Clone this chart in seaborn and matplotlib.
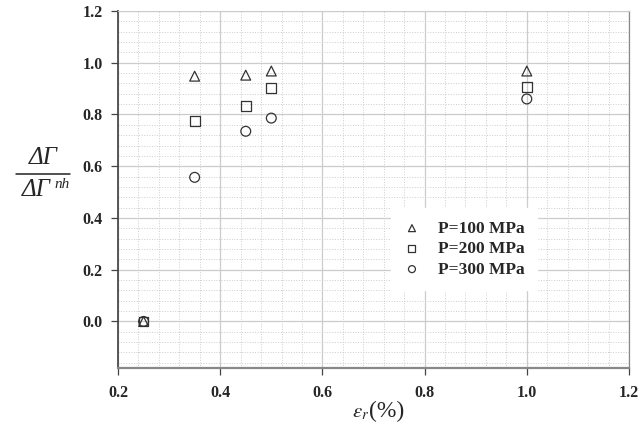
import matplotlib
matplotlib.use("Agg")
import matplotlib.pyplot as plt
import seaborn as sns
import pandas as pd
from matplotlib.lines import Line2D
from matplotlib.ticker import MultipleLocator

# Strain amplitude (%) and normalised energy ratio per confining pressure
strain = [0.25, 0.35, 0.45, 0.50, 1.00]
ratio_p100 = [0.0, 0.948, 0.952, 0.968, 0.968]
ratio_p200 = [0.0, 0.774, 0.832, 0.902, 0.906]
ratio_p300 = [0.0, 0.557, 0.735, 0.786, 0.860]
series_labels = ["P=100 MPa", "P=200 MPa", "P=300 MPa"]
tick_values = [0.0, 0.2, 0.4, 0.6, 0.8, 1.0, 1.2]

df = pd.DataFrame({
    "strain": strain * 3,
    "ratio": ratio_p100 + ratio_p200 + ratio_p300,
    "series": [series_labels[0]] * 5 + [series_labels[1]] * 5 + [series_labels[2]] * 5,
})

sns.set_theme(style="white")
plt.rcParams["font.family"] = ["Liberation Serif", "DejaVu Serif"]
plt.rcParams["mathtext.fontset"] = "stix"

W, H = 640, 423
fig = plt.figure(figsize=(6.4, 4.23), dpi=100)
ax = fig.add_axes([118 / W, 1 - 368 / H, (629 - 118) / W, (368 - 11) / H])

markers = {"P=100 MPa": "^", "P=200 MPa": "s", "P=300 MPa": "o"}
for lab in series_labels:
    sub = df[df["series"] == lab]
    sns.scatterplot(data=sub, x="strain", y="ratio", marker=markers[lab], s=50,
                    facecolors="none", edgecolors="#333333", linewidth=0.9,
                    label=lab, ax=ax, zorder=3)

ax.set_xlim(0.2, 1.2)
ax.set_ylim(-0.18, 1.2)
ax.set_xticks([v for v in tick_values if v >= 0.2])
ax.set_yticks(tick_values)
ax.set_xticklabels([f"{v:.1f}" for v in tick_values if v >= 0.2], fontweight="bold")
ax.set_yticklabels([f"{v:.1f}" for v in tick_values], fontweight="bold")
ax.xaxis.set_minor_locator(MultipleLocator(0.04))
ax.yaxis.set_minor_locator(MultipleLocator(0.04))
ax.grid(which="major", color="#cccccc", linewidth=0.9, linestyle="-")
ax.grid(which="minor", color="#cccccc", linewidth=0.7, linestyle=":")
ax.set_axisbelow(True)

ax.spines["top"].set_color("#cccccc")
ax.spines["top"].set_linewidth(0.8)
ax.spines["right"].set_color("#888888")
ax.spines["right"].set_linewidth(0.9)
ax.spines["left"].set_color("#444444")
ax.spines["bottom"].set_color("#888888")
ax.spines["bottom"].set_linewidth(1.6)

ax.tick_params(axis="both", which="major", direction="out", length=5, width=0.9,
               color="#444444", labelsize=11.5, bottom=True, left=True)
ax.tick_params(axis="x", which="major", pad=7)
ax.tick_params(axis="y", which="major", pad=6)
ax.tick_params(which="minor", length=0)
ax.set_xlabel("")
ax.set_ylabel("")

# x-axis title: strain symbol followed by large parenthesised unit
fig.text(361 / W, 1 - 413 / H, r"$\varepsilon_r$", fontsize=15,
         ha="center", va="center")
fig.text(387 / W, 1 - 411 / H, "(%)", fontsize=17,
         ha="center", va="center")

# y-axis title drawn as a stacked fraction
fig.text(43 / W, 1 - 158 / H, "ΔΓ", fontsize=18, fontstyle="italic",
         ha="center", va="center")
fig.add_artist(Line2D([16 / W, 70 / W], [1 - 174 / H, 1 - 174 / H],
                      color="#222222", linewidth=1.1, transform=fig.transFigure))
fig.text(36 / W, 1 - 190 / H, "ΔΓ", fontsize=18, fontstyle="italic",
         ha="center", va="center")
fig.text(54 / W, 1 - 184 / H, "nh", fontsize=11, fontstyle="italic",
         ha="left", va="center")

leg = ax.legend(loc="center", bbox_to_anchor=(0.677, 0.333), frameon=True,
                fancybox=False, facecolor="white", edgecolor="white", framealpha=1,
                prop={"weight": "bold", "size": 12.5}, handlelength=1.0,
                handletextpad=1.0, borderpad=0.7, labelspacing=0.25)
for h in leg.legend_handles:
    h.set_sizes([25])

fig.savefig("out.png", dpi=100)
